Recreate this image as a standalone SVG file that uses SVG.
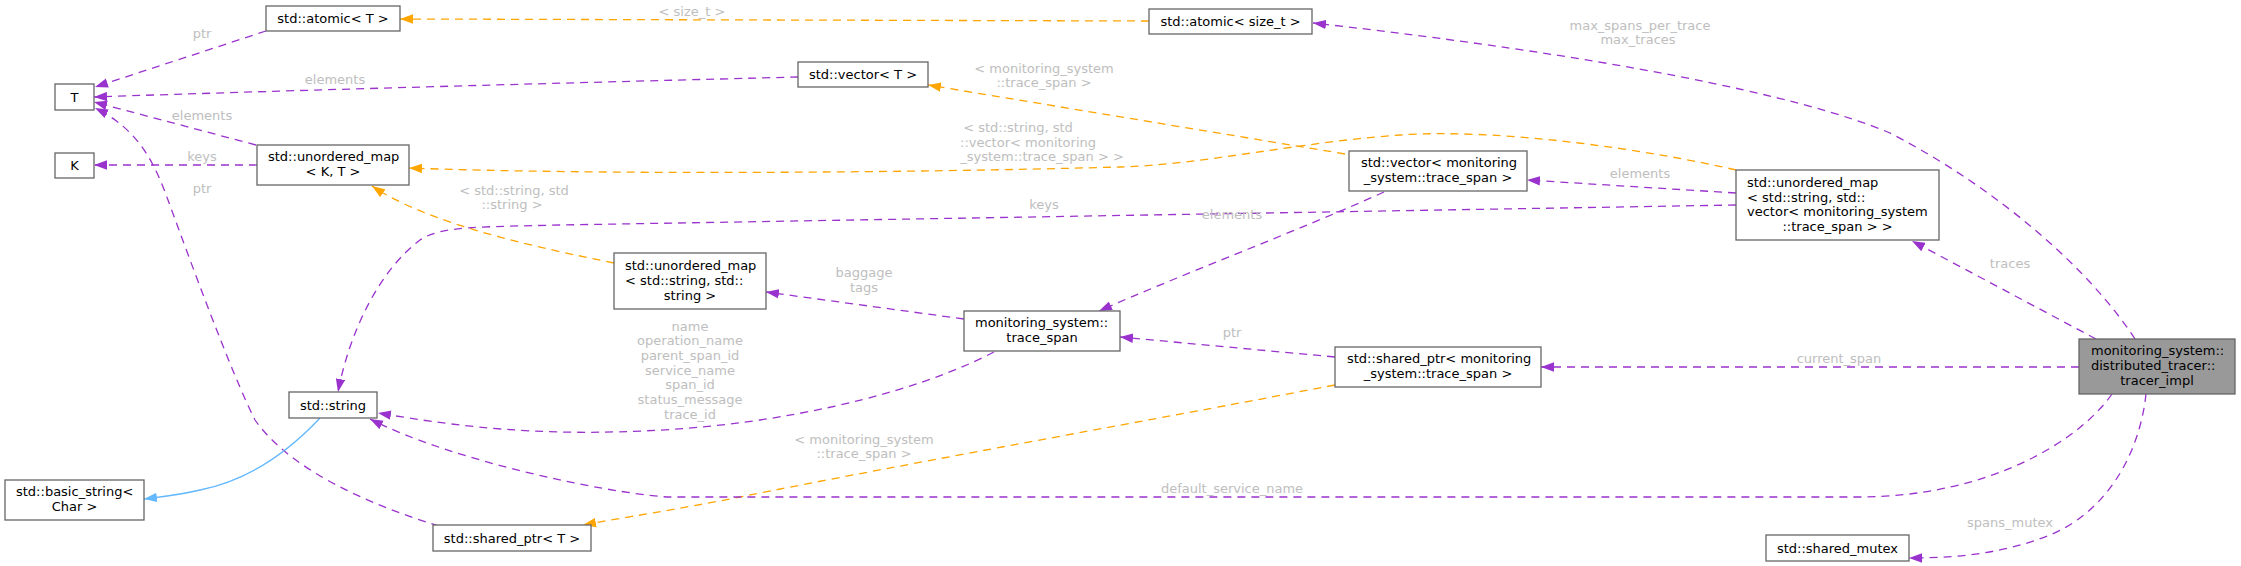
<svg xmlns="http://www.w3.org/2000/svg" width="2241" height="566" viewBox="0 0 2241 566">
<style>
.n rect{fill:#ffffff;stroke:#666666;stroke-width:1.3}
.n.g rect{fill:#999999}
.n text{font-family:"DejaVu Sans",sans-serif;font-size:13px;fill:#000000}
.c{text-anchor:middle}
.el{font-family:"DejaVu Sans",sans-serif;font-size:13px;fill:#bebebe;text-anchor:middle}
.e{fill:none;stroke-width:1.3;stroke-dasharray:8,6}
.p{stroke:#9a32cd;marker-end:url(#ap)}
.o{stroke:#ffa500;marker-end:url(#ao)}
.b{stroke:#63b8ff;stroke-dasharray:none;marker-end:url(#ab)}
</style>
<defs>
<marker id="ap" markerUnits="userSpaceOnUse" markerWidth="13" markerHeight="10" viewBox="0 0 13 9.4" refX="13" refY="4.7" orient="auto"><path d="M0,0L13,4.7L0,9.4z" fill="#9a32cd"/></marker>
<marker id="ao" markerUnits="userSpaceOnUse" markerWidth="13" markerHeight="10" viewBox="0 0 13 9.4" refX="13" refY="4.7" orient="auto"><path d="M0,0L13,4.7L0,9.4z" fill="#ffa500"/></marker>
<marker id="ab" markerUnits="userSpaceOnUse" markerWidth="13" markerHeight="10" viewBox="0 0 13 9.4" refX="13" refY="4.7" orient="auto"><path d="M0,0L13,4.7L0,9.4z" fill="#63b8ff"/></marker>
</defs>
<rect width="2241" height="566" fill="#ffffff"/>
<g id="edges">
<path class="e p" d="M266,31 L95,87"/>
<text class="el" x="202" y="38">ptr</text>
<path class="e p" d="M798,77 C600,82 300,90 94,97"/>
<text class="el" x="335" y="84">elements</text>
<path class="e p" d="M256,145 L94,102"/>
<text class="el" x="202" y="120">elements</text>
<path class="e p" d="M257,165 L94,165"/>
<text class="el" x="202" y="161">keys</text>
<path class="e p" d="M439,526 C370,505 290,470 255,420 C230,370 190,260 168,200 C155,165 140,130 95,108"/>
<text class="el" x="202" y="193">ptr</text>
<path class="e o" d="M1149,21 L400,19"/>
<text class="el" x="692" y="16">&lt; size_t &gt;</text>
<path class="e o" d="M1345,154 L928,85"/>
<text class="el" x="1044" y="73">&lt; monitoring_system</text>
<text class="el" x="1044" y="87">::trace_span &gt;</text>
<path class="e o" d="M1736,170 C1650,150 1500,128 1400,135 C1300,142 1200,165 1120,167 C900,173 600,175 409,168"/>
<text class="el" x="1018" y="132">&lt; std::string, std</text>
<text class="el" x="1028" y="147">::vector&lt; monitoring</text>
<text class="el" x="1042" y="161">_system::trace_span &gt; &gt;</text>
<path class="e o" d="M614,263 C540,248 430,225 372,186"/>
<text class="el" x="514" y="195">&lt; std::string, std</text>
<text class="el" x="512" y="209">::string &gt;</text>
<path class="e p" d="M1736,205 L560,225 C480,227 440,226 420,240 C380,270 350,330 338,392"/>
<text class="el" x="1044" y="209">keys</text>
<path class="e p" d="M1736,193 L1527,180"/>
<text class="el" x="1640" y="178">elements</text>
<path class="e p" d="M1384,192 C1300,230 1180,275 1099,311"/>
<text class="el" x="1232" y="219">elements</text>
<path class="e p" d="M964,319 L766,292"/>
<text class="el" x="864" y="277">baggage</text>
<text class="el" x="864" y="292">tags</text>
<path class="e p" d="M994,352 C940,380 860,405 760,420 C680,432 600,433 560,432 C480,430 420,420 378,413"/>
<text class="el" x="690" y="331">name</text>
<text class="el" x="690" y="345">operation_name</text>
<text class="el" x="690" y="360">parent_span_id</text>
<text class="el" x="690" y="375">service_name</text>
<text class="el" x="690" y="389">span_id</text>
<text class="el" x="690" y="404">status_message</text>
<text class="el" x="690" y="419">trace_id</text>
<path class="e b" d="M320,418 C290,450 250,480 200,490 C180,495 160,497 144,499"/>
<path class="e p" d="M1335,357 L1120,337"/>
<text class="el" x="1232" y="337">ptr</text>
<path class="e o" d="M1335,385 L1256,400 C1150,420 900,465 740,497 C680,509 620,518 583,525"/>
<text class="el" x="864" y="444">&lt; monitoring_system</text>
<text class="el" x="864" y="458">::trace_span &gt;</text>
<path class="e p" d="M2135,339 C2090,270 2000,190 1890,133 C1800,95 1600,55 1313,23"/>
<text class="el" x="1640" y="30">max_spans_per_trace</text>
<text class="el" x="1638" y="44">max_traces</text>
<path class="e p" d="M2096,339 L1912,241"/>
<text class="el" x="2010" y="268">traces</text>
<path class="e p" d="M2079,367 L1541,367"/>
<text class="el" x="1839" y="363">current_span</text>
<path class="e p" d="M2112,394 C2080,440 1990,497 1858,497 L667,497 C600,492 450,460 370,419"/>
<text class="el" x="1232" y="493">default_service_name</text>
<path class="e p" d="M2146,394 C2140,450 2110,510 2050,535 C2000,555 1950,558 1909,558"/>
<text class="el" x="2010" y="527">spans_mutex</text>
</g>
<g id="node_T" class="n"><rect x="55" y="84" width="39" height="26"/><text class="c" x="74.5" y="101.5">T</text></g>
<g id="node_K" class="n"><rect x="55" y="153" width="39" height="25"/><text class="c" x="74.5" y="170">K</text></g>
<g id="node_atomic_T" class="n"><rect x="266" y="6" width="134" height="25"/><text class="c" x="333" y="23">std::atomic&lt; T &gt;</text></g>
<g id="node_umap_KT" class="n"><rect x="257" y="145" width="152" height="40"/><text x="268" y="161">std::unordered_map</text><text class="c" x="333" y="176">&lt; K, T &gt;</text></g>
<g id="node_vector_T" class="n"><rect x="798" y="62" width="130" height="25"/><text class="c" x="863" y="79">std::vector&lt; T &gt;</text></g>
<g id="node_atomic_size_t" class="n"><rect x="1149" y="9" width="163" height="25"/><text class="c" x="1230.5" y="26">std::atomic&lt; size_t &gt;</text></g>
<g id="node_vector_span" class="n"><rect x="1349" y="151" width="178" height="40"/><text x="1361" y="167">std::vector&lt; monitoring</text><text class="c" x="1438" y="182">_system::trace_span &gt;</text></g>
<g id="node_umap_traces" class="n"><rect x="1736" y="170" width="203" height="70"/><text x="1747" y="187">std::unordered_map</text><text x="1747" y="201.5">&lt; std::string, std::</text><text x="1747" y="216">vector&lt; monitoring_system</text><text class="c" x="1837.5" y="230.5">::trace_span &gt; &gt;</text></g>
<g id="node_tracer_impl" class="n g"><rect x="2079" y="339" width="156" height="55"/><text x="2091" y="355">monitoring_system::</text><text x="2091" y="370">distributed_tracer::</text><text class="c" x="2157" y="385">tracer_impl</text></g>
<g id="node_shared_ptr_span" class="n"><rect x="1335" y="347" width="206" height="40"/><text x="1347" y="363">std::shared_ptr&lt; monitoring</text><text class="c" x="1438" y="378">_system::trace_span &gt;</text></g>
<g id="node_trace_span" class="n"><rect x="964" y="311" width="156" height="40"/><text x="975" y="327">monitoring_system::</text><text class="c" x="1042" y="342">trace_span</text></g>
<g id="node_umap_ss" class="n"><rect x="614" y="253" width="152" height="56"/><text x="625" y="270">std::unordered_map</text><text x="625" y="285">&lt; std::string, std::</text><text class="c" x="690" y="300">string &gt;</text></g>
<g id="node_string" class="n"><rect x="289" y="392" width="88" height="26"/><text class="c" x="333" y="409.5">std::string</text></g>
<g id="node_basic_string" class="n"><rect x="5" y="480" width="139" height="40"/><text x="16" y="496">std::basic_string&lt;</text><text class="c" x="74.5" y="511">Char &gt;</text></g>
<g id="node_shared_ptr_T" class="n"><rect x="433" y="525" width="158" height="26"/><text class="c" x="512" y="542.5">std::shared_ptr&lt; T &gt;</text></g>
<g id="node_shared_mutex" class="n"><rect x="1766" y="535" width="143" height="26"/><text class="c" x="1837.5" y="552.5">std::shared_mutex</text></g>
</svg>
